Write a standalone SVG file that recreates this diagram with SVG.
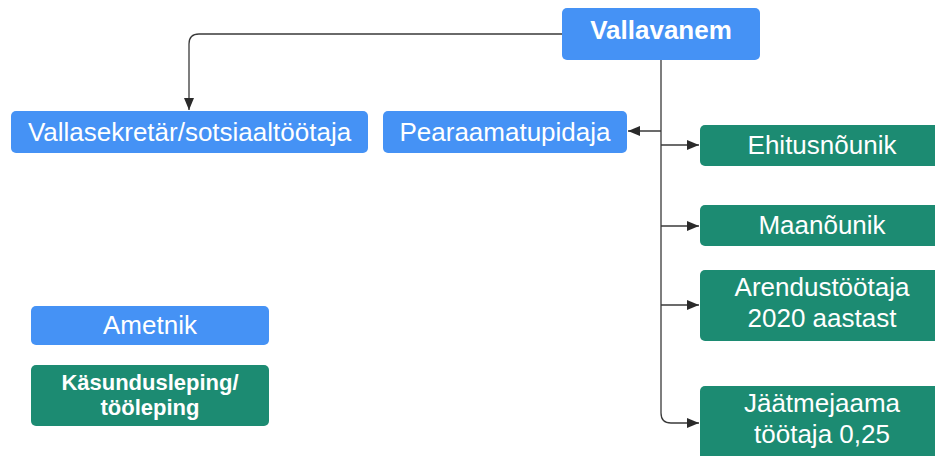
<svg xmlns="http://www.w3.org/2000/svg" width="935" height="456" viewBox="0 0 935 456">
<defs>
<style>
.blue{fill:#4592f5}
.green{fill:#1c8b72}
.t{fill:#ffffff;font-family:"Liberation Sans",Arial,sans-serif;font-size:26px;text-anchor:middle}
.b{font-weight:bold}
.c{fill:none;stroke:#3a3a3a;stroke-width:1.3}
</style>
<marker id="ah" viewBox="0 0 12 10" refX="12" refY="5" markerWidth="12" markerHeight="10" markerUnits="userSpaceOnUse" orient="auto">
<path d="M0,0 L12,5 L0,10 Z" fill="#2a2a2a"/>
</marker>
</defs>
<rect width="935" height="456" fill="#ffffff"/>
<g id="connectors">
<path class="c" d="M562,34 H199 Q189,34 189,44 V110" marker-end="url(#ah)"/>
<path class="c" d="M661,60 V413 Q661,423 671,423 H699" marker-end="url(#ah)"/>
<path class="c" d="M661,131 H628" marker-end="url(#ah)"/>
<path class="c" d="M661,145 H699" marker-end="url(#ah)"/>
<path class="c" d="M661,226 H699" marker-end="url(#ah)"/>
<path class="c" d="M661,305 H699" marker-end="url(#ah)"/>
</g>
<g id="vallavanem">
<rect class="blue" x="562" y="8" width="198" height="52" rx="5"/>
<text class="t b" x="661" y="39">Vallavanem</text>
</g>
<g id="vallasekretar">
<rect class="blue" x="11" y="111" width="357" height="42" rx="5"/>
<text class="t" x="189.5" y="141">Vallasekretär/sotsiaaltöötaja</text>
</g>
<g id="pearaamatupidaja">
<rect class="blue" x="383" y="111" width="244" height="42" rx="5"/>
<text class="t" x="505" y="141">Pearaamatupidaja</text>
</g>
<g id="ehitusnounik">
<rect class="green" x="700" y="125" width="244" height="41" rx="5"/>
<text class="t" x="822" y="154">Ehitusnõunik</text>
</g>
<g id="maanounik">
<rect class="green" x="700" y="205" width="244" height="41" rx="5"/>
<text class="t" x="822" y="234">Maanõunik</text>
</g>
<g id="arendustootaja">
<rect class="green" x="700" y="270" width="244" height="71" rx="5"/>
<text class="t" x="822" y="296">Arendustöötaja</text>
<text class="t" x="822" y="327">2020 aastast</text>
</g>
<g id="jaatmejaama">
<rect class="green" x="700" y="386" width="244" height="80" rx="5"/>
<text class="t" x="822" y="412">Jäätmejaama</text>
<text class="t" x="822" y="443">töötaja 0,25</text>
</g>
<g id="ametnik">
<rect class="blue" x="31" y="306" width="238" height="39" rx="5"/>
<text class="t" x="150" y="334">Ametnik</text>
</g>
<g id="kasundusleping">
<rect class="green" x="31" y="365" width="238" height="61" rx="5"/>
<text class="t b" x="150" y="390" style="font-size:22px">Käsundusleping/</text>
<text class="t b" x="150" y="415" style="font-size:22px">tööleping</text>
</g>
</svg>
